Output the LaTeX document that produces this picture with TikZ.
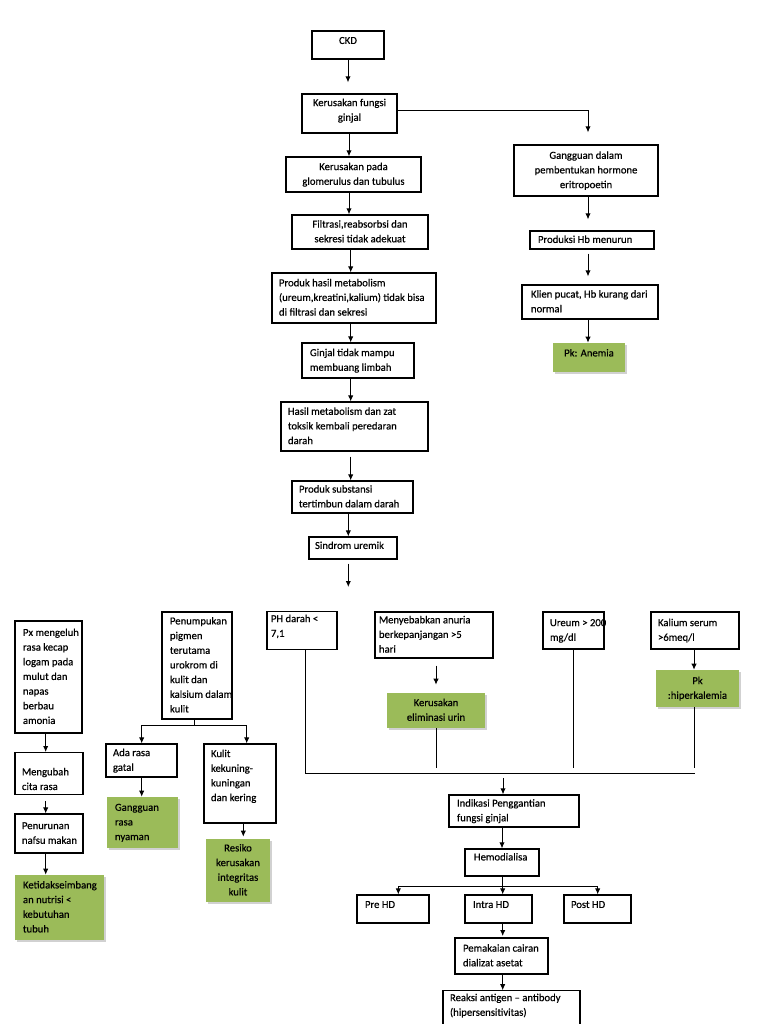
\documentclass[tikz,border=0pt]{standalone}
\usepackage{fontspec}
\setmainfont{Carlito}[FakeBold=0.5]
\usetikzlibrary{arrows.meta,shadows,calc}
\definecolor{grn}{HTML}{9BBB59}
% left-aligned box: style, name, x1, y1, x2, y2, pad, rows
\newcommand\bl[8]{%
  \pgfmathsetmacro\cx{(#3+#5)/2}\pgfmathsetmacro\cy{(#4+#6)/2}%
  \pgfmathsetmacro\bw{(#5-#3)*0.75}\pgfmathsetmacro\bh{(#6-#4)*0.75}%
  \pgfmathsetmacro\tw{(#5-#3-2*#7)*0.75}%
  \node[#1,minimum width=\bw pt,minimum height=\bh pt] (#2) at (\cx,\cy)
    {\makebox[\tw pt][l]{\begin{tabular}{@{}l@{}}#8\end{tabular}}};}
% centred box: style, name, x1, y1, x2, y2, rows
\newcommand\bc[7]{%
  \pgfmathsetmacro\cx{(#3+#5)/2}\pgfmathsetmacro\cy{(#4+#6)/2}%
  \pgfmathsetmacro\bw{(#5-#3)*0.75}\pgfmathsetmacro\bh{(#6-#4)*0.75}%
  \node[#1,minimum width=\bw pt,minimum height=\bh pt] (#2) at (\cx,\cy)
    {\begin{tabular}{@{}c@{}}#7\end{tabular}};}
\begin{document}
\begin{tikzpicture}[x=0.75pt,y=-0.75pt,
  box/.style={draw=black,line width=0.9pt,fill=white,inner sep=0pt,font=\fontsize{8}{11}\selectfont},
  gbox/.style={fill=grn,draw=none,inner sep=0pt,font=\fontsize{8}{11}\selectfont,
     drop shadow={shadow xshift=1.5pt,shadow yshift=-1.5pt,fill=black!18,opacity=1}},
  arr/.style={line width=0.75pt,-{Latex[length=4.5pt,width=4pt]}},
  ln/.style={line width=0.75pt}]
\fill[white] (0,0) rectangle (768,1024);
\clip (0,0) rectangle (768,1024);
% column coordinates
\coordinate (c1) at (349,0);
\coordinate (c2) at (350.7,0);
\coordinate (c3) at (348.3,0);
\coordinate (c4) at (588,0);
\coordinate (c5) at (45.7,0);
\coordinate (c6) at (141.7,0);
\coordinate (c7) at (246.7,0);
\coordinate (c8) at (243.3,0);
\coordinate (c9) at (305,0);
\coordinate (c10) at (695,0);
\coordinate (c11) at (694,0);
\coordinate (c12) at (398.3,0);
\coordinate (c13) at (597.7,0);
% main chain
\bc{box}{ckd}{312}{31}{384}{59}{CKD\\[6pt]}
\bc{box}{kf}{302}{94}{397}{133}{Kerusakan fungsi\\ginjal\\[4.5pt]}
\bc{box}{kp}{286}{157}{421}{192}{Kerusakan pada\\glomerulus dan tubulus}
\bc{box}{fil}{292}{215}{428}{249}{Filtrasi,reabsorbsi dan\\sekresi tidak adekuat}
\bl{box}{phm}{272}{273}{436}{323}{7}{Produk hasil metabolism\\(ureum,kreatini,kalium) tidak bisa\\di filtrasi dan sekresi}
\bl{box}{gtm}{302}{343}{414}{378}{8}{Ginjal tidak mampu\\membuang limbah}
\bl{box}{hm}{281}{402}{428}{451}{7}{Hasil metabolism dan zat\\toksik kembali peredaran\\darah}
\bl{box}{ps}{292}{481}{413}{513}{7}{Produk substansi\\tertimbun dalam darah}
\bl{box}{su}{309}{537}{397}{559}{6}{Sindrom uremik\\[3pt]}
% right column
\bc{box}{gd}{514}{145}{658}{196}{Gangguan dalam\\pembentukan hormone\\eritropoetin}
\bl{box}{phb}{530}{231}{654}{249}{8}{Produksi Hb menurun}
\bl{box}{kli}{522}{285}{658}{319}{9}{Klien pucat, Hb kurang dari\\normal}
\bc{gbox}{ane}{553}{343}{625}{372}{Pk: Anemia\\[6pt]}
% bottom left
\bl{box}{px}{15}{621}{82}{733}{8}{Px mengeluh\\rasa kecap\\logam pada\\mulut dan\\napas\\berbau\\amonia}
\bl{box}{mcr}{15}{754}{83}{793}{7}{\rule{0pt}{17pt}Mengubah\\cita rasa}
\bl{box}{pnm}{15}{814}{83}{853}{7}{Penurunan\\nafsu makan}
\bl{gbox}{ktd}{15}{875}{104}{940}{8}{Ketidakseimbang\\an nutrisi <\\kebutuhan\\tubuh}
\bl{box}{pen}{162}{612}{232}{719}{8}{Penumpukan\\pigmen\\terutama\\urokrom di\\kulit dan\\kalsium dalam\\kulit}
\bl{box}{arg}{106}{744}{177}{777}{7}{Ada rasa\\gatal}
\bl{box}{kkk}{204}{744}{276}{823}{7}{Kulit\\kekuning-\\kuningan\\dan kering\\[11pt]}
\bl{gbox}{grs}{107}{797}{178}{848}{8}{Gangguan\\rasa\\nyaman}
\bc{gbox}{res}{206}{839}{270}{902}{Resiko\\kerusakan\\integritas\\kulit}
% middle row
\bl{box}{ph}{267}{612}{337}{649}{4}{PH darah <\\7,1\\[6pt]}
\bl{box}{men}{375}{612}{493}{658}{4}{Menyebabkan anuria\\berkepanjangan >5\\hari}
\bc{gbox}{kel}{387}{693}{485}{728}{Kerusakan\\eliminasi urin}
\bl{box}{ure}{543}{612}{604}{649}{7}{Ureum > 200\\mg/dl}
\bl{box}{kal}{651}{612}{739}{649}{7}{Kalium serum\\>6meq/l}
\bc{gbox}{hip}{656}{670}{739}{707}{Pk\\:hiperkalemia}
% bottom centre
\bl{box}{ind}{449}{795}{579}{827}{8}{Indikasi Penggantian\\fungsi ginjal}
\bl{box}{hd}{465}{849}{539}{876}{9}{Hemodialisa\\[7.5pt]}
\bl{box}{pre}{357}{895}{429}{923}{8}{Pre HD\\[6pt]}
\bl{box}{intra}{465}{895}{532}{923}{8}{Intra HD\\[6pt]}
\bl{box}{post}{564}{895}{631}{923}{7}{Post HD\\[6pt]}
\bl{box}{pem}{455}{938}{548}{974}{8}{Pemakaian cairan\\dializat asetat}
\bl{box}{rea}{443}{991}{580}{1028}{7}{Reaksi antigen -- antibody\\(hipersensitivitas)\\[6pt]}
% connectors: main chain
\draw[arr,shorten >=8.25pt] (ckd.south) -- (ckd.south |- kf.north);
\draw[arr] (kf.south -| c1) -- (kp.north -| c1);
\draw[arr] (kp.south -| c1) -- (fil.north -| c1);
\draw[arr] (fil.south -| c2) -- (phm.north -| c2);
\draw[arr] (phm.south -| c2) -- (gtm.north -| c2);
\draw[arr] (gtm.south -| c2) -- (hm.north -| c2);
\draw[arr,shorten <=3.75pt] (hm.south -| c2) -- (ps.north -| c2);
\draw[arr] (ps.south -| c3) -- (su.north -| c3);
\coordinate (suend) at (348.3,587);
\draw[arr,shorten <=3pt] (su.south -| suend) -- (suend);
% right column
\draw[arr,shorten >=9pt] ([yshift=2.6pt]kf.east) -| (gd.north -| c4);
\draw[arr,shorten >=8.25pt] (gd.south -| c4) -- (phb.north -| c4);
\draw[arr,shorten <=3pt,shorten >=6pt] (phb.south -| c4) -- (kli.north -| c4);
\draw[arr] (kli.south -| c4) -- (ane.north -| c4);
% bottom left
\draw[arr] (px.south -| c5) -- (mcr.north -| c5);
\draw[arr,shorten <=4.5pt] (mcr.south -| c5) -- (pnm.north -| c5);
\draw[arr] (pnm.south -| c5) -- (ktd.north -| c5);
\coordinate (pb) at (194,725.7);
\draw[ln] (pen.south -| pb) -- (pb);
\draw[arr] (pb) -| (arg.north -| c6);
\draw[arr] (pb) -| (kkk.north -| c7);
\draw[arr] (arg.south -| c6) -- (grs.north -| c6);
\draw[arr,shorten >=1.5pt] (kkk.south -| c8) -- (res.north -| c8);
% bus
\coordinate (bus) at (503,773.3);
\draw[ln] (ph.south -| c9) -- (bus -| c9) -- (bus -| c10);
\draw[arr,shorten <=5.25pt,shorten >=6pt] (men.south -| kel.north) -- (kel.north);
\draw[ln] (kel.south) -- ($(bus -| kel.south)+(0,-5)$);
\draw[ln] (ure.south) -- ($(bus -| ure.south)+(0,-5)$);
\draw[arr] (kal.south -| c11) -- (hip.north -| c11);
\draw[ln] (hip.south -| c11) -- ($(bus -| c11)+(0,-5)$);
\draw[arr,shorten <=3.75pt] (bus) -- (bus |- ind.north);
% bottom centre
\draw[arr] (ind.south -| hd.north) -- (hd.north);
\coordinate (hb) at (502.7,886.7);
\draw[ln] (hd.south -| hb) -- (hb);
\draw[arr] (hb) -| (pre.north -| c12);
\draw[arr] (hb) -- (intra.north -| hb);
\draw[arr] (hb) -| (post.north -| c13);
\draw[arr,shorten >=1pt] (intra.south -| hb) -- (pem.north -| hb);
\draw[arr] (pem.south -| hb) -- (rea.north -| hb);
\end{tikzpicture}
\end{document}
